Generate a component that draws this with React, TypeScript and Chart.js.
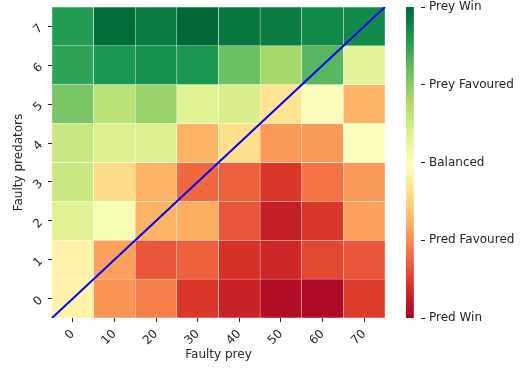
import { useEffect, useRef } from "react";
import { Chart, registerables } from "chart.js";

Chart.register(...registerables);

// Number of faulty prey (columns) and faulty predators (rows)
const preyLabels = ["0", "10", "20", "30", "40", "50", "60", "70"];
const predatorLabels = ["0", "1", "2", "3", "4", "5", "6", "7"];

// Outcome score per row of faulty predators: -1 = predators win, +1 = prey win
const predators0 = [-0.08, -0.48, -0.54, -0.78, -0.86, -0.94, -0.96, -0.76];
const predators1 = [-0.08, -0.44, -0.68, -0.64, -0.8, -0.84, -0.72, -0.68];
const predators2 = [0.16, 0.04, -0.38, -0.4, -0.68, -0.88, -0.78, -0.44];
const predators3 = [0.26, -0.22, -0.38, -0.62, -0.64, -0.78, -0.58, -0.46];
const predators4 = [0.26, 0.18, 0.18, -0.38, -0.2, -0.46, -0.46, 0.0];
const predators5 = [0.54, 0.32, 0.44, 0.16, 0.2, -0.18, 0.02, -0.38];
const predators6 = [0.74, 0.8, 0.82, 0.8, 0.58, 0.4, 0.64, 0.14];
const predators7 = [0.78, 0.98, 0.92, 1.0, 0.94, 0.92, 0.86, 0.86];

const outcomeRows = [
  predators0, predators1, predators2, predators3,
  predators4, predators5, predators6, predators7,
];

// Colour bar ticks
const scaleTicks = [-1, -0.5, 0, 0.5, 1];
const scaleLabels = ["Pred Win", "Pred Favoured", "Balanced", "Prey Favoured", "Prey Win"];

// Diagonal reference line from the bottom-left to the top-right corner
// (x in column-index units, so -0.5 and 7.5 are the outer cell edges)
const diagonal = [
  { x: -0.5, y: 0 },
  { x: 7.5, y: 8 },
];

// RdYlGn colour map stops
const RDYLGN: [number, number, number][] = [
  [165, 0, 38], [215, 48, 39], [244, 109, 67], [253, 174, 97], [254, 224, 139],
  [255, 255, 191], [217, 239, 139], [166, 217, 106], [102, 189, 99], [26, 152, 80],
  [0, 104, 55],
];

function rdylgn(v: number): string {
  const t = Math.min(1, Math.max(0, (v + 1) / 2)) * (RDYLGN.length - 1);
  const i = Math.min(RDYLGN.length - 2, Math.floor(t));
  const f = t - i;
  const a = RDYLGN[i];
  const b = RDYLGN[i + 1];
  const c = a.map((x, k) => Math.round(x + (b[k] - x) * f));
  return `rgb(${c[0]},${c[1]},${c[2]})`;
}

const FONT = { family: "'DejaVu Sans', sans-serif", size: 12 };
const TEXT = "#262626";

// Keep the plot area fixed: drop the extra room Chart.js reserves for edge labels
function noEdgePadding(s: any) {
  s.paddingLeft = 0;
  s.paddingRight = 0;
  s.paddingTop = 0;
  s.paddingBottom = 0;
}

export default function App() {
  const mainRef = useRef<HTMLCanvasElement>(null);
  const barRef = useRef<HTMLCanvasElement>(null);

  useEffect(() => {
    // One floating-bar dataset per predator row: each cell spans [row, row + 1]
    const heatDatasets: any[] = outcomeRows.map((row, r) => ({
      type: "bar",
      label: `predators ${predatorLabels[r]}`,
      data: row.map(() => [r, r + 1]),
      backgroundColor: row.map(rdylgn),
      borderColor: "rgba(255,255,255,0.85)",
      borderWidth: 0.5,
      borderSkipped: false,
      barPercentage: 1,
      categoryPercentage: 1,
      grouped: false,
      order: 1,
    }));

    const main = new Chart(mainRef.current!, {
      type: "bar",
      data: {
        labels: preyLabels,
        datasets: [
          {
            type: "line",
            label: "diagonal",
            data: diagonal as any,
            parsing: false,
            borderColor: "#0000ff",
            borderWidth: 2,
            pointRadius: 0,
            order: 0,
          } as any,
          ...heatDatasets,
        ],
      },
      options: {
        animation: false,
        responsive: false,
        devicePixelRatio: 1,
        layout: { padding: { top: 7, right: 15, left: 0, bottom: 0 } },
        plugins: { legend: { display: false }, tooltip: { enabled: false } },
        scales: {
          x: {
            type: "category",
            offset: true,
            grid: { offset: false, drawOnChartArea: false, tickLength: 4, tickColor: TEXT },
            border: { display: false },
            ticks: { color: TEXT, font: FONT, minRotation: 45, maxRotation: 45, padding: 5 },
            title: { display: true, text: "Faulty prey", color: TEXT, font: FONT, padding: { top: 0, bottom: 9 } },
            afterFit: (s: any) => { s.height = 53; noEdgePadding(s); },
          },
          y: {
            type: "linear",
            min: 0,
            max: 8,
            afterBuildTicks: (s: any) => {
              s.ticks = predatorLabels.map((_, i) => ({ value: i + 0.5 }));
            },
            ticks: {
              color: TEXT,
              font: FONT,
              minRotation: 45,
              maxRotation: 45,
              padding: 7,
              autoSkip: false,
              callback: (_v: any, i: number) => predatorLabels[i],
            },
            grid: { drawOnChartArea: false, tickLength: 4, tickColor: TEXT },
            border: { display: false },
            title: { display: true, text: "Faulty predators", color: TEXT, font: FONT, padding: { top: 12, bottom: 0 } },
            afterFit: (s: any) => { s.width = 52; noEdgePadding(s); },
          },
        },
      } as any,
    });

    const colorBar = new Chart(barRef.current!, {
      type: "bar",
      data: {
        labels: [""],
        datasets: [
          {
            label: "scale",
            data: [[-1, 1]] as any,
            barPercentage: 1,
            categoryPercentage: 1,
            borderWidth: 0,
            backgroundColor: (ctx: any) => {
              const area = ctx.chart.chartArea;
              if (!area) return "#ffffbf";
              const g = ctx.chart.ctx.createLinearGradient(0, area.bottom, 0, area.top);
              RDYLGN.forEach((_, i) => {
                g.addColorStop(i / (RDYLGN.length - 1), rdylgn(-1 + (2 * i) / (RDYLGN.length - 1)));
              });
              return g;
            },
          },
        ],
      },
      options: {
        animation: false,
        responsive: false,
        devicePixelRatio: 1,
        layout: { padding: { top: 7, bottom: 53, left: 0, right: 0 } },
        plugins: { legend: { display: false }, tooltip: { enabled: false } },
        scales: {
          x: { display: false, offset: false },
          y: {
            position: "right",
            min: -1,
            max: 1,
            afterBuildTicks: (s: any) => {
              s.ticks = scaleTicks.map((v) => ({ value: v }));
            },
            ticks: {
              color: TEXT,
              font: FONT,
              padding: 4,
              autoSkip: false,
              maxRotation: 0,
              callback: (_v: any, i: number) => scaleLabels[i],
            },
            grid: { drawOnChartArea: false, tickLength: 4, tickColor: TEXT },
            border: { display: false },
            afterFit: (s: any) => { s.width = 101; noEdgePadding(s); },
          },
        },
      } as any,
    });

    return () => {
      main.destroy();
      colorBar.destroy();
    };
  }, []);

  return (
    <div style={{ position: "absolute", left: 0, top: 0, width: 522, height: 371, background: "#fff" }}>
      <canvas ref={mainRef} width={400} height={371} style={{ position: "absolute", left: 0, top: 0 }} />
      <canvas ref={barRef} width={116} height={371} style={{ position: "absolute", left: 406, top: 0 }} />
    </div>
  );
}
